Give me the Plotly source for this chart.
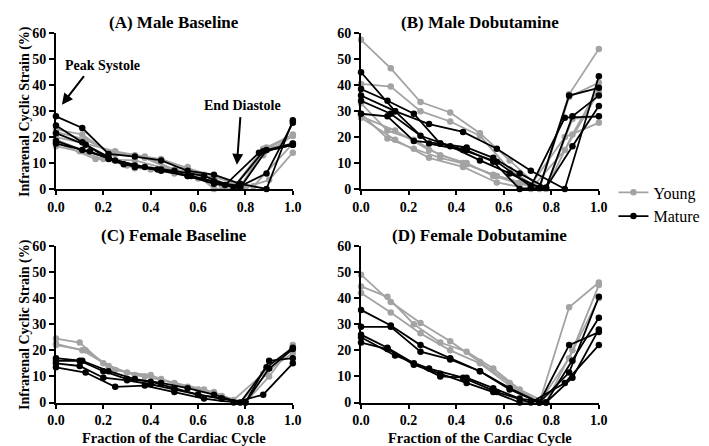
import plotly.graph_objects as go
from plotly.subplots import make_subplots

# frame positions (fraction of cardiac cycle) for different frame counts
X6 = [0, 0.167, 0.333, 0.5, 0.667, 0.833, 1.0]
X7 = [0, 0.143, 0.286, 0.429, 0.571, 0.714, 0.857, 1.0]
X8 = [0, 0.125, 0.25, 0.375, 0.5, 0.625, 0.75, 0.875, 1.0]
X9 = [0, 0.111, 0.222, 0.333, 0.444, 0.556, 0.667, 0.778, 0.889, 1.0]
X10 = [0, 0.1, 0.2, 0.3, 0.4, 0.5, 0.6, 0.7, 0.8, 0.9, 1.0]

# (A) Male Baseline
A_YOUNG_X = [X9, X8, X10, X9, X6, X8]
A_YOUNG_Y = [
    [23, 21, 14, 13, 11.5, 8, 5, 1, 16, 21],
    [20, 17.5, 14.5, 12.5, 7.5, 5.5, 0.5, 15.5, 17.5],
    [16.5, 14.5, 11.5, 9, 7.5, 6, 4, 1.5, 0.5, 3.5, 14],
    [19, 15, 12, 8, 7.5, 8.5, 0, 0.5, 15.5, 20.5],
    [18, 11.5, 11, 7, 4.5, 1, 17.5],
    [22, 19, 13.5, 12, 7, 5, 1, 13, 20.5],
]
A_MATURE_X = [X9, X9, X8, X9, X7]
A_MATURE_Y = [
    [28, 23.5, 13.5, 12.5, 11, 7, 5.5, 2, 0, 26.5],
    [24.5, 18, 11.5, 8.5, 7.5, 5, 3, 1, 6, 25.5],
    [21.5, 17, 11, 8.5, 7, 5, 0.5, 14.5, 17],
    [18.5, 15, 12, 9, 7, 5, 2, 0.5, 15, 17.5],
    [17.5, 14.5, 9.5, 7.5, 5, 1.5, 14, 17],
]

# (B) Male Dobutamine
B_YOUNG_X = [X8, X8, X9, X9, X7, X7]
B_YOUNG_Y = [
    [57.5, 46.5, 33.5, 29.5, 21.5, 11, 0.5, 36.5, 54],
    [40.5, 39.5, 30, 26, 20.5, 7.5, 0, 35.5, 41],
    [33, 22.5, 19, 13, 10, 5, 2, 0, 21, 39],
    [29, 19.5, 15.5, 12, 9.5, 5.5, 2.5, 0.5, 27, 28],
    [28, 22.5, 15, 10, 5, 1.5, 20, 25.5],
    [27.5, 19, 12, 8.5, 2.5, 0, 15, 37.5],
]
B_MATURE_X = [X7, X9, X7, X8, X9]
B_MATURE_Y = [
    [45, 30, 17.5, 15, 10.5, 1, 27.5, 28],
    [38.5, 34, 29, 17.5, 16, 12, 6, 0.5, 16.5, 32],
    [36, 30, 25, 22, 15.5, 7, 0, 43.5],
    [34, 29, 20.5, 16.5, 11, 6, 0.5, 36, 39],
    [29, 28, 18.5, 17.5, 15, 10.5, 0, 0.5, 28, 36],
]

# (C) Female Baseline
C_YOUNG_X = [X10, X9, X8]
C_YOUNG_Y = [
    [24.5, 23, 15, 11.5, 10.5, 7, 5, 2.5, 0, 10, 22],
    [22.5, 20, 14, 10.5, 9, 6, 4, 0, 11, 21],
    [22, 20, 12.5, 10, 7.5, 5, 1, 11, 19],
]
C_MATURE_X = [X9, X10, X8, X10]
C_MATURE_Y = [
    [17, 16, 12, 9, 7.5, 5.5, 3, 0, 13.5, 21],
    [16, 16, 12, 9, 8, 5.5, 3, 1.5, 0, 16, 17],
    [13.5, 11.5, 6, 6.5, 4, 1.5, 0, 3, 15],
    [15, 14, 9.5, 8.5, 7, 5, 3, 1.5, 0, 13, 20.5],
]

# (D) Female Dobutamine
D_YOUNG_X = [X8, X9, X8]
D_YOUNG_Y = [
    [49, 38.5, 30.5, 23.5, 15.5, 7.5, 0, 36.5, 46],
    [44.5, 40.5, 30, 23, 19.5, 13, 5, 0, 20, 45],
    [42, 34.5, 26.5, 20, 15, 6.5, 0, 17, 40],
]
D_MATURE_X = [X8, X8, X9, X7, X9]
D_MATURE_Y = [
    [35.5, 29.5, 22, 17, 12, 5.5, 0, 22, 27],
    [29, 29, 19.5, 16.5, 12, 5, 0, 11.5, 40.5],
    [26, 21, 15, 10, 9.5, 5.5, 1.5, 0, 16, 32.5],
    [25, 18, 13, 9.5, 4, 0, 7.5, 22],
    [23, 20.5, 14.5, 11, 7.5, 4, 0, 0, 9.5, 28],
]

PANEL_TITLES = ["(A) Male Baseline", "(B) Male Dobutamine",
                "(C) Female Baseline", "(D) Female Dobutamine"]
X_TICKS = [0, 0.2, 0.4, 0.6, 0.8, 1.0]
X_TICKTEXT = ["0.0", "0.2", "0.4", "0.6", "0.8", "1.0"]
Y_TICKS = [0, 10, 20, 30, 40, 50, 60]

GREY = "#a3a3a3"
BLACK = "#000000"
SERIF = "Liberation Serif"

W, H = 709, 446


def px_x(p):
    return p / W


def px_y(p):
    return 1 - p / H


def bold(s):
    return "<b>" + s + "</b>"


fig = make_subplots(rows=2, cols=2)

panels = [
    (1, 1, A_YOUNG_X, A_YOUNG_Y, A_MATURE_X, A_MATURE_Y),
    (1, 2, B_YOUNG_X, B_YOUNG_Y, B_MATURE_X, B_MATURE_Y),
    (2, 1, C_YOUNG_X, C_YOUNG_Y, C_MATURE_X, C_MATURE_Y),
    (2, 2, D_YOUNG_X, D_YOUNG_Y, D_MATURE_X, D_MATURE_Y),
]

first = True
for row, col, yx, yy, mx, my in panels:
    for i, (xs, ys) in enumerate(zip(yx, yy)):
        fig.add_trace(go.Scatter(
            x=xs, y=ys, mode="lines+markers", name="Young", legendgroup="young",
            showlegend=first and i == 0, cliponaxis=False,
            line=dict(color=GREY, width=1.8), marker=dict(color=GREY, size=6.5)),
            row=row, col=col)
    for i, (xs, ys) in enumerate(zip(mx, my)):
        fig.add_trace(go.Scatter(
            x=xs, y=ys, mode="lines+markers", name="Mature", legendgroup="mature",
            showlegend=first and i == 0, cliponaxis=False,
            line=dict(color=BLACK, width=1.8), marker=dict(color=BLACK, size=6.5)),
            row=row, col=col)
    first = False

axis_font = dict(family=SERIF, size=14, color="black")
fig.update_xaxes(range=[0, 1], tickvals=X_TICKS, ticktext=[bold(t) for t in X_TICKTEXT],
                 showline=True, linecolor="black", linewidth=2, ticks="outside",
                 ticklen=4, tickwidth=2, tickcolor="black", showgrid=False,
                 zeroline=False, tickfont=axis_font)
fig.update_yaxes(range=[0, 60], tickvals=Y_TICKS,
                 ticktext=[bold(str(v)) for v in Y_TICKS],
                 showline=True, linecolor="black",
                 linewidth=2, ticks="outside", ticklen=5, tickwidth=2,
                 tickcolor="black", showgrid=False, zeroline=False,
                 tickfont=axis_font)

# panel positions in pixels
col_px = [(40, 283), (353, 597)]
row_px = [(19, 180), (239, 401)]
names = [("xaxis", "yaxis"), ("xaxis2", "yaxis2"), ("xaxis3", "yaxis3"), ("xaxis4", "yaxis4")]
doms = {}
for k, (xa, ya) in enumerate(names):
    cx = col_px[k % 2]
    ry = row_px[k // 2]
    doms[xa] = dict(domain=[px_x(cx[0]), px_x(cx[1])])
    doms[ya] = dict(domain=[px_y(ry[1]), px_y(ry[0])])
fig.update_layout(**doms)

annotations = []
title_font = dict(family=SERIF, size=17, color="black")
lab_font = dict(family=SERIF, size=14, color="black")
for k, title in enumerate(PANEL_TITLES):
    cx = col_px[k % 2]
    ty = 8 if k < 2 else 228
    annotations.append(dict(text=bold(title), x=px_x((cx[0] + cx[1]) / 2), y=px_y(ty),
                            xref="paper", yref="paper", showarrow=False,
                            font=title_font, xanchor="center", yanchor="middle"))

for ry in row_px:
    annotations.append(dict(text=bold("Infrarenal Cyclic Strain (%)"), x=px_x(8),
                            y=px_y((ry[0] + ry[1]) / 2), xref="paper", yref="paper",
                            showarrow=False, textangle=-90, xanchor="center",
                            yanchor="middle",
                            font=dict(family=SERIF, size=14, color="black")))
for cx in col_px:
    annotations.append(dict(text=bold("Fraction of the Cardiac Cycle"),
                            x=px_x((cx[0] + cx[1]) / 2), y=px_y(438),
                            xref="paper", yref="paper", showarrow=False,
                            font=dict(family=SERIF, size=14.5, color="black"),
                            xanchor="center", yanchor="middle"))

# callouts in panel A
annotations.append(dict(text=bold("Peak Systole"), x=0.195, y=47.8, xref="x", yref="y",
                        showarrow=False, font=lab_font))
annotations.append(dict(text="", x=0.025, y=32.5, ax=0.123, ay=44.1, xref="x", yref="y",
                        axref="x", ayref="y", showarrow=True, arrowhead=2,
                        arrowsize=1.1, arrowwidth=2, arrowcolor="black"))
annotations.append(dict(text=bold("End Diastole"), x=0.788, y=32, xref="x", yref="y",
                        showarrow=False, font=lab_font))
annotations.append(dict(text="", x=0.764, y=9.3, ax=0.779, ay=28.3, xref="x", yref="y",
                        axref="x", ayref="y", showarrow=True, arrowhead=2,
                        arrowsize=1.1, arrowwidth=2, arrowcolor="black"))

fig.update_layout(
    width=W, height=H,
    margin=dict(l=0, r=0, t=0, b=0),
    paper_bgcolor="white", plot_bgcolor="white",
    font=dict(family=SERIF, color="black"),
    annotations=annotations,
    showlegend=True,
    legend=dict(x=px_x(612), y=px_y(166), xanchor="left", yanchor="top",
                font=dict(family=SERIF, size=16, color="black"),
                bgcolor="rgba(0,0,0,0)", tracegroupgap=0),
)

fig.write_html("out.html")
